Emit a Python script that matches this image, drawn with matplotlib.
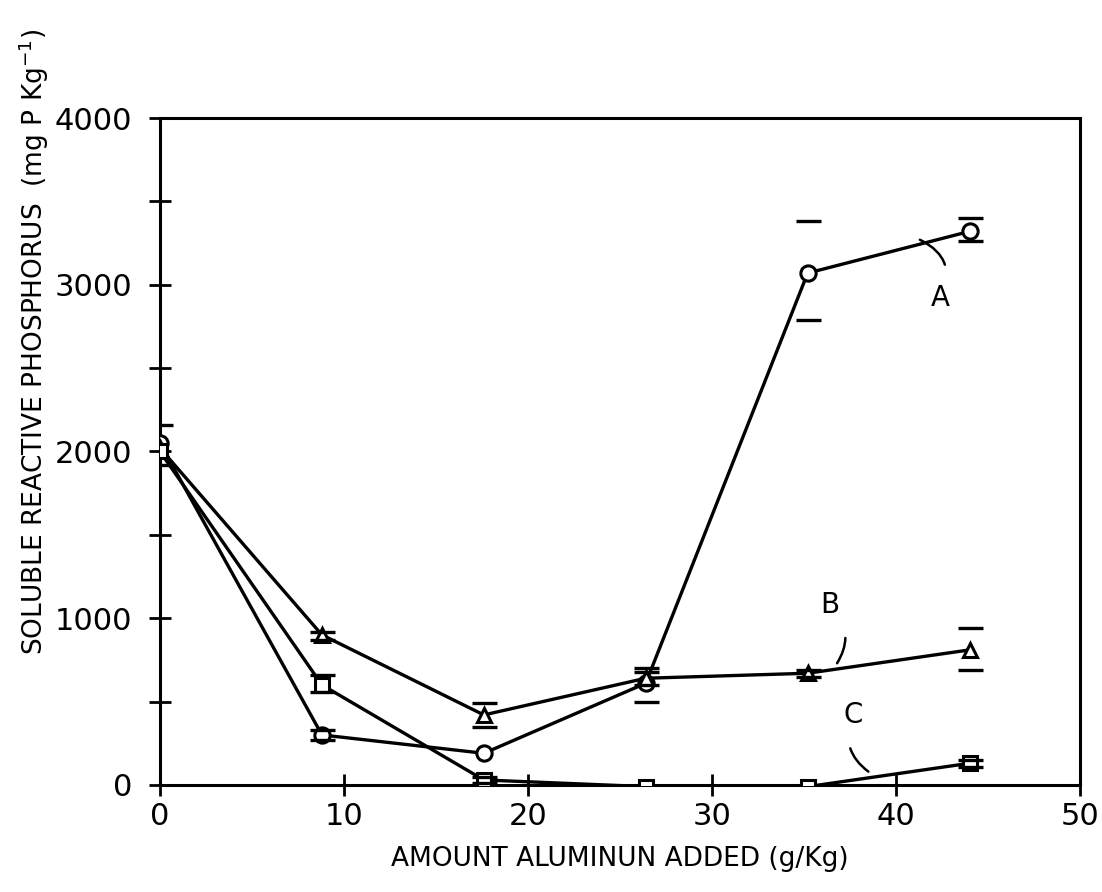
import matplotlib
matplotlib.use("Agg")
import matplotlib.pyplot as plt
import numpy as np

# ---- data ----
al_added = [0, 8.8, 17.6, 26.4, 35.2, 44]

srp_A = [2050, 300, 190, 610, 3070, 3320]          # circles
srp_A_hi = [2160, 330, 190, 700, 3380, 3400]
srp_A_lo = [1920, 270, 190, 500, 2790, 3260]

srp_B = [2020, 900, 420, 640, 670, 810]             # triangles
srp_B_hi = [2020, 920, 490, 680, 690, 940]
srp_B_lo = [2020, 870, 350, 600, 650, 690]

srp_C = [2000, 600, 30, -10, -10, 130]              # squares
srp_C_hi = [2000, 660, 50, -10, -10, 150]
srp_C_lo = [2000, 560, 10, -10, -10, 110]

x_ticks = [0, 10, 20, 30, 40, 50]
y_ticks = [0, 1000, 2000, 3000, 4000]
y_minor = [500, 1500, 2500, 3500]

plt.rcParams['font.family'] = ['DejaVu Sans']

fig = plt.figure(figsize=(11.02, 8.92), dpi=100)
ax = fig.add_axes([0.1452, 0.1200, 0.8348, 0.7477])

lw = 2.4
for y, hi, lo, mk, ms in [(srp_A, srp_A_hi, srp_A_lo, 'o', 11),
                          (srp_B, srp_B_hi, srp_B_lo, '^', 10),
                          (srp_C, srp_C_hi, srp_C_lo, 's', 10)]:
    ax.plot(al_added, y, color='black', lw=lw, marker=mk, ms=ms,
            mfc='white', mec='black', mew=2.2, zorder=3)
    idx = [i for i in range(len(y)) if hi[i] != lo[i]]
    xs = np.array(al_added)[idx]
    ys = np.array(y)[idx]
    yerr = [ys - np.array(lo)[idx], np.array(hi)[idx] - ys]
    eb = ax.errorbar(xs, ys, yerr=yerr, fmt='none', ecolor='black',
                     elinewidth=0, capsize=9, capthick=2.4, zorder=4)
    for c in eb[2]:
        c.set_visible(False)

ax.set_xlim(0, 50)
ax.set_ylim(0, 4000)
ax.set_xticks(x_ticks)
ax.set_yticks(y_ticks)
ax.set_yticks(y_minor, minor=True)
ax.tick_params(axis='both', which='major', direction='inout', length=16,
               width=2, labelsize=22)
ax.tick_params(axis='y', which='major', pad=12)
ax.tick_params(axis='x', which='major', pad=4)
ax.tick_params(axis='y', which='minor', direction='inout', length=16, width=2)
for s in ax.spines.values():
    s.set_linewidth(2.2)

ax.set_xlabel('AMOUNT ALUMINUN ADDED (g/Kg)', fontsize=19, labelpad=11)
ax.set_ylabel('SOLUBLE REACTIVE PHOSPHORUS  (mg P Kg$^{-1}$)', fontsize=19)
ax.yaxis.set_label_coords(-0.118, 0.665)

# curve labels with curly leader lines
ax.annotate('A', xy=(41.3, 3270), xytext=(42.4, 2920), fontsize=20,
            ha='center', va='center',
            arrowprops=dict(arrowstyle='-', lw=1.8, color='black',
                            connectionstyle='arc3,rad=0.5', shrinkA=12, shrinkB=0))
ax.annotate('B', xy=(36.8, 730), xytext=(36.4, 1080), fontsize=20,
            ha='center', va='center',
            arrowprops=dict(arrowstyle='-', lw=1.8, color='black',
                            connectionstyle='arc3,rad=-0.4', shrinkA=12, shrinkB=0))
ax.annotate('C', xy=(38.5, 80), xytext=(37.7, 420), fontsize=20,
            ha='center', va='center',
            arrowprops=dict(arrowstyle='-', lw=1.8, color='black',
                            connectionstyle='arc3,rad=0.4', shrinkA=12, shrinkB=0))

fig.savefig('out.png', dpi=100, facecolor='white')
